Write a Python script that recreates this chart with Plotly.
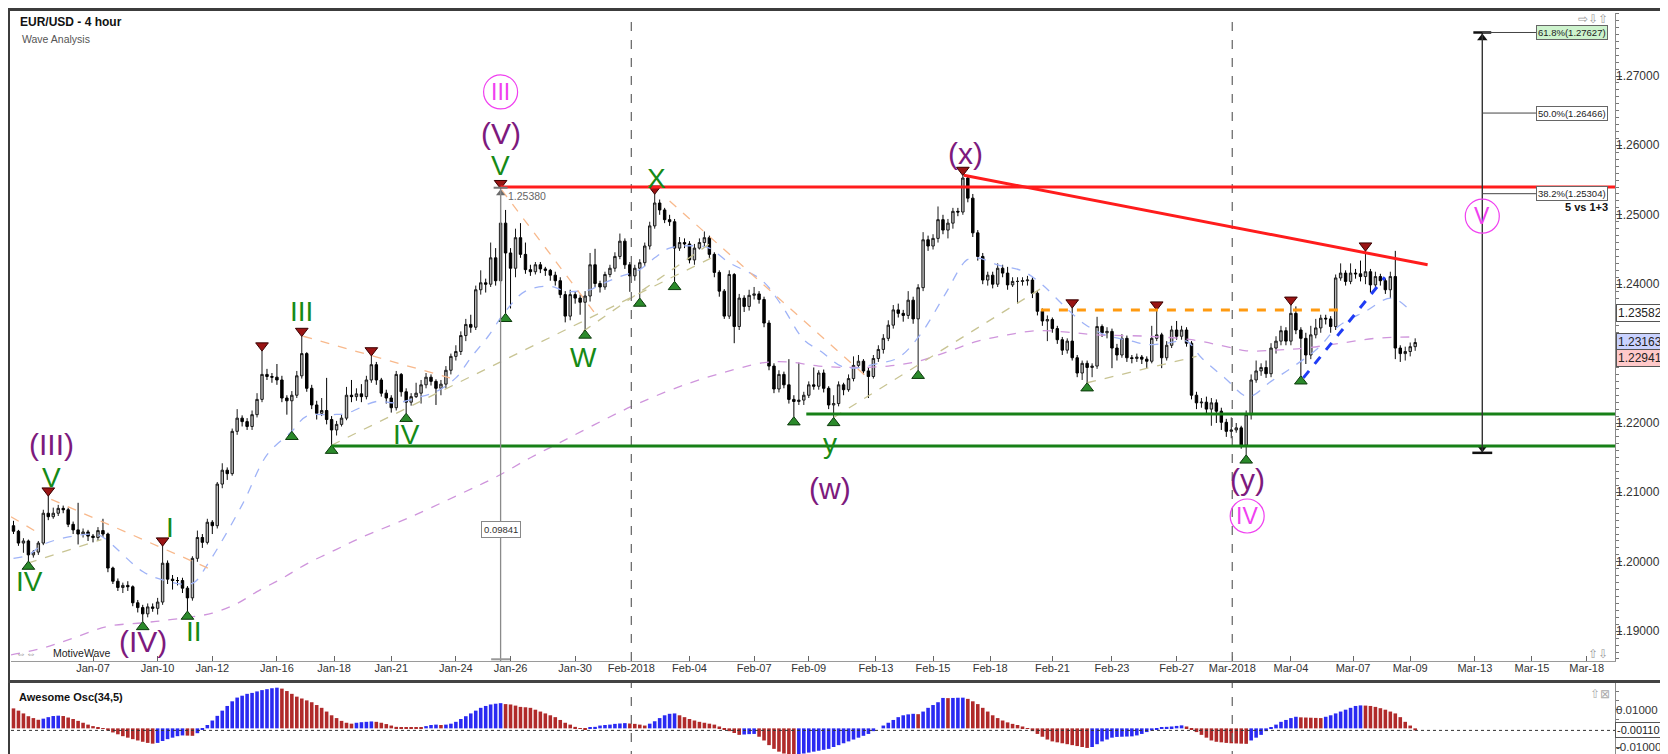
import plotly.graph_objects as go

# ---------------------------------------------------------------- data
first_open = 1.2052
closes = [
    1.2044, 1.2027, 1.2030, 1.2010, 1.2014, 1.2027, 1.2070, 1.2065, 1.2070, 1.2077,
    1.2075, 1.2054, 1.2046, 1.2040, 1.2043, 1.2037, 1.2035, 1.2045, 1.2040, 1.1991,
    1.1972, 1.1963, 1.1966, 1.1964, 1.1941, 1.1934, 1.1925, 1.1935, 1.1933, 1.1942,
    1.1998, 1.1975, 1.1973, 1.1973, 1.1962, 1.1948, 1.2005, 1.2035, 1.2028, 1.2057,
    1.2052, 1.2112, 1.2132, 1.2127, 1.2188, 1.2207, 1.2202, 1.2195, 1.2212, 1.2234,
    1.2270, 1.2267, 1.2266, 1.2262, 1.2236, 1.2232, 1.2240, 1.2268, 1.2300, 1.2250,
    1.2226, 1.2214, 1.2218, 1.2205, 1.2190, 1.2198, 1.2207, 1.2240, 1.2238, 1.2242,
    1.2238, 1.2262, 1.2284, 1.2262, 1.2243, 1.2236, 1.2222, 1.2270, 1.2245, 1.2230,
    1.2238, 1.2243, 1.2255, 1.2266, 1.2260, 1.2250, 1.2256, 1.2276, 1.2296, 1.2303,
    1.2326, 1.2342, 1.2338, 1.2392, 1.2402, 1.2400, 1.2438, 1.2405, 1.2488, 1.2445,
    1.2423, 1.2467, 1.2443, 1.2421, 1.2418, 1.2428, 1.2422, 1.2420, 1.2413, 1.2405,
    1.2385, 1.2354, 1.2385, 1.2380, 1.2374, 1.2383, 1.2428, 1.2401, 1.2396, 1.2414,
    1.2423, 1.2440, 1.2462, 1.2428, 1.2412, 1.2423, 1.2431, 1.2455, 1.2484, 1.2517,
    1.2507, 1.2493, 1.2490, 1.2452, 1.2460, 1.2458, 1.2435, 1.2452, 1.2460, 1.2467,
    1.2443, 1.2417, 1.2390, 1.2354, 1.2414, 1.2339, 1.2380, 1.2368, 1.2384, 1.2386,
    1.2378, 1.2344, 1.2282, 1.2249, 1.2270, 1.2255, 1.2234, 1.2231, 1.2233, 1.2240,
    1.2255, 1.2253, 1.2272, 1.2250, 1.2226, 1.2228, 1.2255, 1.2248, 1.2264, 1.2283,
    1.2289, 1.2275, 1.2267, 1.2293, 1.2306, 1.2322, 1.2341, 1.2363, 1.2358, 1.2355,
    1.2377, 1.2350, 1.2395, 1.2464, 1.2455, 1.2466, 1.2493, 1.2478, 1.2488, 1.2505,
    1.2504, 1.2553, 1.2524, 1.2474, 1.2440, 1.2406, 1.2413, 1.2400, 1.2423, 1.2416,
    1.2399, 1.2404, 1.2404, 1.2405, 1.2406, 1.2387, 1.2361, 1.2347, 1.2349, 1.2336,
    1.2320, 1.2305, 1.2318, 1.2294, 1.2272, 1.2286, 1.2280, 1.2282, 1.2339, 1.2330,
    1.2332, 1.2308, 1.2298, 1.2322, 1.2294, 1.2293, 1.2295, 1.2292, 1.2289, 1.2322,
    1.2327, 1.2294, 1.2312, 1.2334, 1.2325, 1.2334, 1.2315, 1.2240, 1.2229, 1.2230,
    1.2220, 1.2229, 1.2217, 1.2201, 1.2188, 1.2190, 1.2193, 1.2168, 1.2212, 1.2262,
    1.2275, 1.2280, 1.2271, 1.2308, 1.2318, 1.2333, 1.2318, 1.2358, 1.2334, 1.2322,
    1.2298, 1.2327, 1.2337, 1.2351, 1.2350, 1.2339, 1.2409, 1.2416, 1.2404, 1.2416,
    1.2415, 1.2411, 1.2418, 1.2399, 1.2411, 1.2405, 1.2392, 1.2411, 1.2308, 1.2300,
    1.2303, 1.2310, 1.2316,
]
highs = [
    1.2059, 1.2046, 1.2034, 1.2032, 1.2017, 1.2030, 1.2075, 1.2095, 1.2078, 1.2082,
    1.2081, 1.2078, 1.2058, 1.2085, 1.2048, 1.2046, 1.2040, 1.2050, 1.2062, 1.2042,
    1.1993, 1.1976, 1.1970, 1.1972, 1.1966, 1.1945, 1.1938, 1.1940, 1.1940, 1.1948,
    1.2023, 1.2002, 1.1981, 1.1978, 1.1977, 1.1965, 1.2008, 1.2045, 1.2040, 1.2062,
    1.2060, 1.2115, 1.2142, 1.2136, 1.2192, 1.2220, 1.2211, 1.2207, 1.2218, 1.2243,
    1.2304, 1.2278, 1.2272, 1.2285, 1.2268, 1.2240, 1.2246, 1.2275, 1.2325, 1.2302,
    1.2255, 1.2232, 1.2236, 1.2265, 1.2210, 1.2203, 1.2212, 1.2252, 1.2262, 1.2250,
    1.2256, 1.2268, 1.2297, 1.2288, 1.2265, 1.2248, 1.2240, 1.2275, 1.2272, 1.2250,
    1.2243, 1.2258, 1.2262, 1.2272, 1.2270, 1.2263, 1.2262, 1.2282, 1.2300, 1.2312,
    1.2332, 1.2350, 1.2356, 1.2398, 1.2420, 1.2408, 1.2460, 1.2452, 1.2538, 1.2507,
    1.2452, 1.2480, 1.2488, 1.2460, 1.2428, 1.2432, 1.2432, 1.2425, 1.2422, 1.2418,
    1.2410, 1.2390, 1.2392, 1.2390, 1.2385, 1.2390, 1.2445, 1.2451, 1.2405, 1.2418,
    1.2428, 1.2446, 1.2473, 1.2466, 1.2432, 1.2428, 1.2436, 1.2460, 1.2490, 1.2530,
    1.2522, 1.2510, 1.2500, 1.2494, 1.2468, 1.2466, 1.2462, 1.2458, 1.2466, 1.2476,
    1.2470, 1.2446, 1.2420, 1.2393, 1.2420, 1.2416, 1.2386, 1.2384, 1.2392, 1.2396,
    1.2390, 1.2382, 1.2348, 1.2286, 1.2276, 1.2274, 1.2292, 1.2240, 1.2287, 1.2245,
    1.2260, 1.2280, 1.2276, 1.2277, 1.2253, 1.2240, 1.2260, 1.2258, 1.2270, 1.2296,
    1.2298, 1.2292, 1.2280, 1.2298, 1.2312, 1.2328, 1.2348, 1.2370, 1.2372, 1.2363,
    1.2390, 1.2382, 1.2400, 1.2475, 1.2470, 1.2472, 1.2512, 1.2500, 1.2494, 1.2510,
    1.2510, 1.2557, 1.2555, 1.2530, 1.2478, 1.2445, 1.2418, 1.2418, 1.2430, 1.2428,
    1.2425, 1.2410, 1.2410, 1.2410, 1.2412, 1.2410, 1.2390, 1.2365, 1.2355, 1.2352,
    1.2340, 1.2324, 1.2322, 1.2366, 1.2298, 1.2290, 1.2290, 1.2286, 1.2353, 1.2342,
    1.2338, 1.2336, 1.2314, 1.2328, 1.2326, 1.2298, 1.2300, 1.2298, 1.2296, 1.2340,
    1.2363, 1.2330, 1.2318, 1.2340, 1.2347, 1.2340, 1.2338, 1.2318, 1.2245, 1.2236,
    1.2238, 1.2236, 1.2234, 1.2222, 1.2206, 1.2208, 1.2200, 1.2196, 1.2218, 1.2270,
    1.2290, 1.2286, 1.2290, 1.2315, 1.2325, 1.2340, 1.2338, 1.2370, 1.2368, 1.2338,
    1.2330, 1.2340, 1.2350, 1.2356, 1.2356, 1.2354, 1.2414, 1.2430, 1.2420, 1.2430,
    1.2422, 1.2434, 1.2448, 1.2422, 1.2418, 1.2415, 1.2408, 1.2418, 1.2448, 1.2312,
    1.2310, 1.2316, 1.2322,
]
lows = [
    1.2040, 1.2023, 1.2013, 1.2001, 1.2006, 1.2010, 1.2024, 1.2060, 1.2062, 1.2066,
    1.2070, 1.2050, 1.2040, 1.2025, 1.2035, 1.2030, 1.2028, 1.2030, 1.2036, 1.1985,
    1.1968, 1.1958, 1.1955, 1.1958, 1.1936, 1.1927, 1.1914, 1.1920, 1.1928, 1.1924,
    1.1938, 1.1968, 1.1960, 1.1966, 1.1955, 1.1929, 1.1944, 1.2000, 1.2020, 1.2025,
    1.2040, 1.2048, 1.2106, 1.2118, 1.2124, 1.2183, 1.2195, 1.2190, 1.2190, 1.2208,
    1.2230, 1.2262, 1.2258, 1.2255, 1.2230, 1.2212, 1.2188, 1.2236, 1.2264, 1.2245,
    1.2220, 1.2205, 1.2210, 1.2198, 1.2168, 1.2182, 1.2195, 1.2204, 1.2230, 1.2232,
    1.2230, 1.2234, 1.2258, 1.2255, 1.2238, 1.2228, 1.2215, 1.2218, 1.2238, 1.2214,
    1.2225, 1.2236, 1.2228, 1.2250, 1.2254, 1.2226, 1.2240, 1.2250, 1.2270, 1.2290,
    1.2298, 1.2318, 1.2330, 1.2334, 1.2385, 1.2388, 1.2396, 1.2398, 1.2400, 1.2358,
    1.2365, 1.2410, 1.2438, 1.2415, 1.2412, 1.2414, 1.2416, 1.2412, 1.2405, 1.2398,
    1.2380, 1.2345, 1.2348, 1.2372, 1.2356, 1.2334, 1.2375, 1.2396, 1.2388, 1.2392,
    1.2410, 1.2418, 1.2436, 1.2422, 1.2389, 1.2405, 1.2380, 1.2426, 1.2450, 1.2480,
    1.2500, 1.2488, 1.2484, 1.2404, 1.2448, 1.2452, 1.2430, 1.2428, 1.2450, 1.2455,
    1.2438, 1.2410, 1.2382, 1.2350, 1.2350, 1.2315, 1.2334, 1.2360, 1.2362, 1.2378,
    1.2372, 1.2338, 1.2276, 1.2243, 1.2244, 1.2250, 1.2228, 1.2209, 1.2226, 1.2226,
    1.2236, 1.2248, 1.2248, 1.2244, 1.2220, 1.2208, 1.2224, 1.2240, 1.2245, 1.2260,
    1.2280, 1.2270, 1.2236, 1.2264, 1.2288, 1.2300, 1.2318, 1.2336, 1.2352, 1.2346,
    1.2350, 1.2343, 1.2276, 1.2390, 1.2448, 1.2450, 1.2460, 1.2472, 1.2466, 1.2480,
    1.2498, 1.2500, 1.2518, 1.2468, 1.2434, 1.2400, 1.2398, 1.2394, 1.2396, 1.2410,
    1.2392, 1.2396, 1.2372, 1.2398, 1.2398, 1.2380, 1.2355, 1.2340, 1.2318, 1.2330,
    1.2314, 1.2298, 1.2300, 1.2290, 1.2266, 1.2262, 1.2258, 1.2266, 1.2278, 1.2324,
    1.2322, 1.2279, 1.2290, 1.2294, 1.2288, 1.2286, 1.2288, 1.2285, 1.2279, 1.2286,
    1.2318, 1.2279, 1.2290, 1.2308, 1.2320, 1.2320, 1.2310, 1.2234, 1.2220, 1.2222,
    1.2212, 1.2196, 1.2200, 1.2190, 1.2180, 1.2178, 1.2186, 1.2163, 1.2154, 1.2205,
    1.2258, 1.2268, 1.2265, 1.2266, 1.2300, 1.2312, 1.2312, 1.2312, 1.2328, 1.2268,
    1.2285, 1.2292, 1.2322, 1.2330, 1.2342, 1.2330, 1.2334, 1.2405, 1.2398, 1.2400,
    1.2408, 1.2404, 1.2400, 1.2388, 1.2394, 1.2398, 1.2386, 1.2380, 1.2292, 1.2288,
    1.2290, 1.2296, 1.2304,
]
# Awesome Oscillator (34,5), in thousandths
ao_milli = [
    10.7, 9.5, 8.0, 6.5, 5.5, 4.6, 5.2, 6.0, 6.6, 6.8,
    6.6, 5.8, 5.0, 4.0, 3.0, 2.0, 1.2, 0.5, -0.2, -1.2,
    -2.2, -3.2, -4.2, -5.0, -5.8, -6.5, -7.2, -7.8, -8.2, -7.8,
    -6.8, -5.8, -5.0, -4.2, -3.8, -3.9, -4.0, -2.6, -0.5, 1.8,
    4.2, 6.7, 9.5, 12.0, 14.5, 16.5, 17.5, 18.5, 19.0, 19.8,
    20.5, 21.0, 21.5, 21.8, 21.3, 20.0, 18.5, 17.0, 16.0, 15.0,
    14.0, 12.5, 11.0, 9.0, 7.0, 5.5, 4.0, 3.0, 2.5, 3.0,
    3.3, 3.5, 3.7, 3.5, 3.0, 2.3, 1.5, 0.8, 0.5, 0.4,
    0.3, 0.3, 0.2, 1.2, 1.8, 2.0, 1.8, 2.0, 2.5, 3.5,
    5.0, 6.5, 8.0, 9.5, 11.0, 12.0, 12.8, 13.2, 13.5, 13.0,
    12.8, 12.2, 11.5, 11.3, 11.0, 10.0, 9.0, 8.0, 7.0, 6.0,
    4.5, 3.0, 2.0, 0.8, -0.3, -0.8, 0.2, 0.8, 1.5, 1.8,
    2.0, 2.4, 2.6, 2.8, 2.6, 2.4, 2.0, 1.5, 2.5, 3.8,
    5.5, 7.0, 7.8, 8.0, 7.0, 6.0, 5.0, 4.2, 3.5, 3.0,
    2.5, 2.0, 1.0, -0.5, -1.5, -2.5, -3.5, -3.3, -3.1, -3.0,
    -4.5, -6.5, -9.0, -11.0, -12.5, -13.5, -14.2, -14.3, -14.0, -13.5,
    -13.0, -12.5, -12.0, -11.5, -11.0, -10.0, -9.0, -8.0, -7.0, -6.0,
    -5.0, -4.0, -3.0, -1.5, 0.0, 1.5, 3.0, 4.5, 6.0, 7.0,
    7.5, 7.8, 7.6, 9.0, 11.0, 12.5, 14.0, 16.3, 16.2, 16.3,
    16.4, 16.45, 15.8, 14.5, 13.0, 11.0, 9.0, 7.0, 5.5, 4.2,
    3.2, 2.4, 1.8, 1.0, -0.3, -1.5, -3.0, -4.5, -6.0, -7.0,
    -7.5, -8.0, -8.5, -9.0, -9.5, -10.0, -10.5, -10.0, -8.5, -7.0,
    -6.0, -5.0, -4.6, -4.5, -4.4, -4.3, -3.8, -3.0, -2.0, -1.2,
    -0.5, 0.3, 0.8, 1.0, 1.3, 1.6, 1.0, -0.5, -2.0, -3.5,
    -5.0, -6.5, -7.2, -7.5, -7.8, -8.0, -8.1, -8.2, -8.3, -6.5,
    -5.0, -3.5, -1.5, 0.5, 2.0, 3.5, 4.5, 5.5, 6.2, 5.9,
    5.8, 5.7, 5.6, 5.5, 6.2, 7.0, 8.0, 9.0, 10.0, 11.0,
    12.0, 12.3, 12.2, 12.0, 11.5, 10.8, 10.0, 9.0, 8.0, 6.0,
    3.5, 1.5, -1.1,
]

tick_bars = [16, 29, 40, 53, 64.5, 76, 89, 100, 113, 124.3, 136, 149, 160,
             173.5, 185, 196.5, 209, 221, 234, 245.2, 257, 269.5, 281, 294, 305.5, 316.5]
tick_labels = ["Jan-07", "Jan-10", "Jan-12", "Jan-16", "Jan-18", "Jan-21", "Jan-24", "Jan-26",
               "Jan-30", "Feb-2018", "Feb-04", "Feb-07", "Feb-09", "Feb-13", "Feb-15", "Feb-18",
               "Feb-21", "Feb-23", "Feb-27", "Mar-2018", "Mar-04", "Mar-07", "Mar-09", "Mar-13",
               "Mar-15", "Mar-18"]
month_bars = [124.3, 245.2]
price_ticks = [1.19, 1.20, 1.21, 1.22, 1.24, 1.25, 1.26, 1.27]
price_tick_text = ["1.19000", "1.20000", "1.21000", "1.22000", "1.24000", "1.25000", "1.26000", "1.27000"]
ao_ticks = [0.01, -0.01]
ao_tick_text = ["0.01000", "-0.01000"]

blue_ma_bar = [0, 3, 6, 12, 17, 19, 26, 30, 36, 39, 46, 51, 56, 59, 64, 67, 73, 77, 82, 85, 89, 92,
               95.5, 99, 103, 108, 111, 114, 116, 118, 122, 126, 129, 132, 138, 140, 144, 150.5,
               154.5, 159, 162.5, 166.5, 169, 174, 178, 182.4, 187.4, 191.8, 194, 198, 203, 207,
               211.6, 215.6, 219.6, 225, 228, 232, 236, 239, 243.7, 248.4, 253, 257, 262.5,
               266.5, 272, 277.3, 281.5]
blue_ma_val = [1.2005, 1.2010, 1.2025, 1.2037, 1.2039, 1.2030, 1.1986, 1.1974, 1.1969, 1.1996,
               1.2082, 1.2154, 1.2188, 1.2210, 1.2212, 1.2214, 1.2231, 1.2229, 1.2238, 1.2245,
               1.2265, 1.2294, 1.2325, 1.2361, 1.2390, 1.2397, 1.2390, 1.2390, 1.2392, 1.2399,
               1.2411, 1.2421, 1.2438, 1.2452, 1.2455, 1.2452, 1.2431, 1.2406, 1.2370, 1.2320,
               1.2303, 1.2282, 1.2279, 1.2286, 1.2294, 1.2327, 1.2385, 1.2435, 1.2438, 1.2428,
               1.2419, 1.2399, 1.2367, 1.2342, 1.2327, 1.2318, 1.2313, 1.2315, 1.2318, 1.2294,
               1.2265, 1.2238, 1.2260, 1.2279, 1.2308, 1.2339, 1.2361, 1.2380, 1.2358]
purple_ma_bar = [-0.5, 6, 12, 19, 26, 32, 40, 45, 49, 54, 59, 65, 70, 80, 90, 97, 104, 110, 117,
                 125, 135, 145, 151, 156, 162, 169, 176, 182, 188, 194, 200, 206, 212, 218, 228,
                 237, 244, 248, 254, 260, 267, 274, 281.5]
purple_ma_val = [1.1866, 1.1876, 1.1890, 1.1907, 1.1912, 1.1917, 1.1926, 1.1940, 1.1957, 1.1976,
                 1.1997, 1.2018, 1.2035, 1.2065, 1.2098, 1.2122, 1.2150, 1.2172, 1.2198, 1.2226,
                 1.2255, 1.2277, 1.2287, 1.2288, 1.2282, 1.2280, 1.2282, 1.2289, 1.2303, 1.2318,
                 1.2327, 1.2333, 1.2331, 1.2327, 1.2325, 1.2320, 1.2310, 1.2304, 1.2305, 1.2308,
                 1.2315, 1.2322, 1.2324]

pivot_high_bars = [7, 30, 50, 58, 72, 98, 129, 191, 213, 230, 257, 272]
pivot_low_bars = [3, 26, 35, 56, 64, 79, 99, 115, 126, 133, 157, 165, 182, 216, 248, 259]

# (x0, y0, x1, y1) of the thin dashed wave guide lines
peach_lines = [(-0.5, 1.2065, 5.6, 1.2039), (7.6, 1.2090, 39.1, 1.1991),
               (58.3, 1.2325, 87.8, 1.2265), (98.2, 1.2536, 117.0, 1.2358),
               (132.0, 1.2520, 171.9, 1.2265)]
olive_lines = [(2.9, 1.1998, 17.7, 1.2032), (64.0, 1.2168, 141.0, 1.2440),
               (114.6, 1.2332, 140.0, 1.2458), (165.0, 1.2208, 207.0, 1.2395),
               (216.0, 1.2258, 238.0, 1.2296)]

red_level, red_level_from = 1.2540, 98
green_levels = [(1.2167, 64), (1.2213, 159.5)]
red_trend = (191.2, 1.2557, 284.5, 1.2428)
orange_level = (206.7, 267.4, 1.2363)
blue_trend = (259.5, 1.2265, 275.9, 1.2410)

v_bar, v_price, v_span_label = 98, 1.25380, "0.09841"
fib_bar, fib_low, fib_label_bar = 295.5, 1.2157, 306.3
fib_levels = [1.27627, 1.26466, 1.25304]
fib_texts = ["61.8%(1.27627)", "50.0%(1.26466)", "38.2%(1.25304)"]
fib_note, fib_note_price = "5 vs 1+3", 1.25108

green_labels = [("IV", 3.3, 1.1972), ("V", 7.6, 1.2121), ("I", 31.5, 1.2049), ("II", 36.3, 1.1900),
                ("III", 57.9, 1.2361), ("IV", 79.0, 1.2183), ("V", 97.9, 1.2571),
                ("W", 114.6, 1.2294), ("X", 129.3, 1.2553), ("y", 164.2, 1.2170)]
purple_labels = [("(III)", 7.6, 1.2169), ("(IV)", 26.1, 1.1885), ("(V)", 98.0, 1.2617),
                 ("(w)", 164.3, 1.2106), ("(x)", 191.5, 1.2589), ("(y)", 248.2, 1.2119)]
pink_labels = [("III", 98.0, 1.2677), ("IV", 248.2, 1.2066), ("V", 295.5, 1.2498)]

last_labels = [("1.23582", 1.23582, "white"), ("1.23163", 1.23163, "#c9d2ff"),
               ("1.22941", 1.22941, "#ffc9c9")]
ao_last, ao_last_text = -0.00110, "-0.00110"

# ---------------------------------------------------------------- layout constants
W, H = 1668, 754
FONT = "Liberation Sans, Arial, sans-serif"
XD = [3 / W, 1607 / W]
YD_MAIN = [1 - 653 / H, 1 - 5 / H]
YD_AO = [1 - 752 / H, 1 - 675 / H]
XR = [-0.5, 322.2]
YR = [1.185706, 1.279078]
YR_AO = [-0.01697, 0.02431]
LABEL_X = 1607 / W

n = len(closes)
assert len(highs) == n and len(lows) == n and len(ao_milli) == n, (len(highs), len(lows), len(ao_milli))
bars = list(range(n))
opens = [first_open] + closes[:-1]
hi = [max(h, o, c) for h, o, c in zip(highs, opens, closes)]
lo = [min(l, o, c) for l, o, c in zip(lows, opens, closes)]
ao = [v / 1000 for v in ao_milli]
ao_colors = ["#b02a2a" if i == 0 or ao[i] <= ao[i - 1] else "#2a2af2" for i in range(n)]

fig = go.Figure()

# moving averages
fig.add_trace(go.Scatter(x=purple_ma_bar, y=purple_ma_val, mode="lines", line_shape="spline",
                         line=dict(color="#cf95dc", width=1.3, dash="dash"), hoverinfo="skip"))
fig.add_trace(go.Scatter(x=blue_ma_bar, y=blue_ma_val, mode="lines", line_shape="spline",
                         line=dict(color="#9fb3f7", width=1.3, dash="dash"), hoverinfo="skip"))

# guide lines
for x0, y0, x1, y1 in peach_lines:
    fig.add_trace(go.Scatter(x=[x0, x1], y=[y0, y1], mode="lines",
                             line=dict(color="#f8b98c", width=1.3, dash="dash"), hoverinfo="skip"))
for x0, y0, x1, y1 in olive_lines:
    fig.add_trace(go.Scatter(x=[x0, x1], y=[y0, y1], mode="lines",
                             line=dict(color="#c8c493", width=1.3, dash="dash"), hoverinfo="skip"))

# candles
fig.add_trace(go.Candlestick(
    x=bars, open=opens, high=hi, low=lo, close=closes,
    increasing=dict(line=dict(color="#1a1a1a", width=1), fillcolor="#b9b9b9"),
    decreasing=dict(line=dict(color="#000000", width=1), fillcolor="#000000"),
    whiskerwidth=0, hoverinfo="skip", showlegend=False))

# pivot triangles
fig.add_trace(go.Scatter(x=pivot_high_bars, y=[hi[i] + 0.00075 for i in pivot_high_bars],
                         mode="markers", marker=dict(symbol="triangle-down", size=11, color="#9a1414",
                                                     line=dict(color="#3a0000", width=1)),
                         hoverinfo="skip"))
fig.add_trace(go.Scatter(x=pivot_low_bars, y=[lo[i] - 0.00078 for i in pivot_low_bars],
                         mode="markers", marker=dict(symbol="triangle-up", size=11, color="#2b8a2b",
                                                     line=dict(color="#0c3a0c", width=1)),
                         hoverinfo="skip"))

# V measurement arrow head and fib arrow heads
fig.add_trace(go.Scatter(x=[v_bar], y=[v_price - 0.0007], mode="markers",
                         marker=dict(symbol="triangle-up", size=8, color="#6a6a6a"), hoverinfo="skip"))
fig.add_trace(go.Scatter(x=[fib_bar, fib_bar], y=[fib_levels[0] - 0.0008, fib_low + 0.0007], mode="markers",
                         marker=dict(symbol=["triangle-up", "triangle-down"], size=9, color="#111"),
                         hoverinfo="skip"))

# awesome oscillator
fig.add_trace(go.Bar(x=bars, y=ao, marker=dict(color=ao_colors, line=dict(width=0)), width=0.72,
                     xaxis="x2", yaxis="y2", hoverinfo="skip"))

shapes = []


def hline(x0, x1, y, color, width, dash="solid", xref="x", yref="y"):
    shapes.append(dict(type="line", xref=xref, yref=yref, x0=x0, x1=x1, y0=y, y1=y,
                       line=dict(color=color, width=width, dash=dash)))


def seg(x0, y0, x1, y1, color, width, dash="solid"):
    shapes.append(dict(type="line", xref="x", yref="y", x0=x0, x1=x1, y0=y0, y1=y1,
                       line=dict(color=color, width=width, dash=dash)))


for mb in month_bars:
    shapes.append(dict(type="line", xref="x", yref="y domain", x0=mb, x1=mb, y0=0, y1=1,
                       line=dict(color="#6e6e6e", width=1.3, dash="dash")))
    shapes.append(dict(type="line", xref="x2", yref="y2 domain", x0=mb, x1=mb, y0=0, y1=1,
                       line=dict(color="#6e6e6e", width=1.3, dash="dash")))

# level / trend lines
hline(red_level_from, XR[1], red_level, "#ff1c1c", 3)
for lvl, start in green_levels:
    hline(start, XR[1], lvl, "#178017", 3)
seg(red_trend[0], red_trend[1], red_trend[2], red_trend[3], "#ff1c1c", 3)
hline(orange_level[0], orange_level[1], orange_level[2], "#ff9a10", 3, "dash")
seg(blue_trend[0], blue_trend[1], blue_trend[2], blue_trend[3], "#1f3cf5", 3, "dash")

# V measurement line
seg(v_bar, v_price, v_bar, YR[0], "#8a8a8a", 1.3)
hline(v_bar - 1.4, v_bar + 1.4, v_price + 0.0001, "#777", 2)
hline(v_bar - 1.9, v_bar + 1.9, YR[0] + 0.00025, "#999", 2)

# fib tool
seg(fib_bar, fib_low, fib_bar, fib_levels[0], "#333", 1.4)
hline(fib_bar - 1.8, fib_bar + 1.8, fib_levels[0], "#111", 2.5)
hline(fib_bar - 2.0, fib_bar + 2.0, fib_low, "#111", 2.5)
for lvl in fib_levels:
    hline(fib_bar, fib_label_bar, lvl, "#444", 1)

# pink circles
for txt, bx, py in pink_labels:
    shapes.append(dict(type="circle", xref="x", yref="y", xsizemode="pixel", ysizemode="pixel",
                       xanchor=bx, yanchor=py, x0=-17, x1=17, y0=-17, y1=17,
                       line=dict(color="#f040f0", width=1.2)))

# AO current value dotted line
hline(0, 1, ao_last, "#333", 1, "dot", xref="x2 domain", yref="y2")


# frame
def prect(x0, y0, x1, y1, color):
    shapes.append(dict(type="rect", xref="paper", yref="paper", x0=x0 / W, x1=x1 / W,
                       y0=1 - y1 / H, y1=1 - y0 / H, fillcolor=color, line=dict(width=0), layer="above"))


prect(0, 0, W, 3, "#3c3c3c")
prect(0, 0, 2, H, "#3c3c3c")
prect(0, H - 2, W, H, "#3c3c3c")
prect(W - 6, 0, W - 5, H, "#222")
prect(W - 5, 0, W, H, "#3a7bd5")
prect(0, 672, W - 6, 675, "#444")

annotations = []


def ann(text, x, y, size, color, bold=False, xref="x", yref="y", xanchor="center", yanchor="middle", **kw):
    t = f"<b>{text}</b>" if bold else text
    annotations.append(dict(text=t, x=x, y=y, xref=xref, yref=yref, xanchor=xanchor, yanchor=yanchor,
                            showarrow=False, font=dict(size=size, color=color, family=FONT), **kw))


# price-axis and oscillator-axis tick labels placed right next to the tick marks
for val, txt in zip(price_ticks, price_tick_text):
    ann(txt, LABEL_X, val, 12, "#333", xref="paper", yref="y", xanchor="left", borderpad=0)
for val, txt in zip(ao_ticks, ao_tick_text):
    ann(txt, LABEL_X, val, 11.5, "#333", xref="paper", yref="y2", xanchor="left", borderpad=0)

for txt, bx, py in green_labels:
    ann(txt, bx, py, 28, "#168a16")
for txt, bx, py in purple_labels:
    ann(txt, bx, py, 30, "#7d1a7d")
for txt, bx, py in pink_labels:
    ann(txt, bx, py, 23, "#f040f0")

ann("EUR/USD - 4 hour", 10 / W, 1 - 14 / H, 12, "#111", bold=True, xref="paper", yref="paper", xanchor="left")
ann("Wave Analysis", 12 / W, 1 - 31 / H, 10.5, "#555", xref="paper", yref="paper", xanchor="left")
ann("Awesome Osc(34,5)", 9 / W, 1 - 689 / H, 11, "#111", bold=True, xref="paper", yref="paper", xanchor="left")
ann("⇔⇔", 6 / W, 1 - 645 / H, 10, "#888", xref="paper", yref="paper", xanchor="left")
ann("MotiveWave", 43 / W, 1 - 645 / H, 10.5, "#222", xref="paper", yref="paper", xanchor="left")
ann("⇨⇩⇧", 1602 / W, 1 - 11 / H, 12, "#999", xref="paper", yref="paper", xanchor="right")
ann("⇧⇩", 1602 / W, 1 - 646 / H, 12, "#999", xref="paper", yref="paper", xanchor="right")
ann("⇧⊠", 1604 / W, 1 - 686 / H, 12, "#aaa", xref="paper", yref="paper", xanchor="right")

ann(f"{v_price:.5f}", v_bar, v_price - 0.0011, 10.5, "#666", xanchor="left", xshift=5)
ann(v_span_label, v_bar, 1.2046, 9.5, "#333", bgcolor="white", bordercolor="#888", borderwidth=1, borderpad=2)

for lvl, txt, bg in zip(fib_levels, fib_texts, ["#cdf3cd", "white", "white"]):
    ann(txt, fib_label_bar, lvl, 9.5, "#222", xanchor="left", bgcolor=bg, bordercolor="#666",
        borderwidth=1, borderpad=1)
ann(fib_note, 1602 / W, fib_note_price, 11, "#111", bold=True, xref="paper", xanchor="right")

for txt, val, bg in last_labels:
    ann(txt, 1608 / W, val, 12, "#222", xref="paper", xanchor="left", bgcolor=bg,
        bordercolor="#555", borderwidth=1, borderpad=1)
ann(ao_last_text, 1607 / W, ao_last, 11, "#222", xref="paper", yref="y2", xanchor="left",
    bgcolor="white", bordercolor="#555", borderwidth=1, borderpad=1)

fig.update_layout(
    width=W, height=H, margin=dict(l=0, r=0, t=0, b=0),
    paper_bgcolor="white", plot_bgcolor="white", showlegend=False,
    xaxis=dict(domain=XD, range=XR, anchor="y", tickmode="array", tickvals=tick_bars, ticktext=tick_labels,
               ticks="inside", ticklen=5, tickcolor="#666", showline=True, linecolor="#9a9a9a",
               showgrid=False, zeroline=False, tickfont=dict(size=11, color="#333", family=FONT),
               ticklabelstandoff=-3, rangeslider=dict(visible=False), fixedrange=True),
    yaxis=dict(domain=YD_MAIN, range=YR, anchor="x", side="right", tickmode="array", tickvals=price_ticks,
               showticklabels=False, ticks="outside", ticklen=6, tickcolor="#555", showline=True,
               linecolor="#8a8a8a", showgrid=False, zeroline=False,
               minor=dict(dtick=0.001, tick0=1.19, ticklen=3, tickcolor="#777", ticks="outside"),
               fixedrange=True),
    xaxis2=dict(domain=XD, range=XR, anchor="y2", showticklabels=False, ticks="", showline=False,
                showgrid=False, zeroline=False, fixedrange=True),
    yaxis2=dict(domain=YD_AO, range=YR_AO, anchor="x2", side="right", tickmode="array", tickvals=ao_ticks,
                showticklabels=False, ticks="outside", ticklen=5, tickcolor="#555", showline=True,
                linecolor="#8a8a8a", showgrid=False, zeroline=False,
                minor=dict(dtick=0.005, tick0=0, ticklen=3, tickcolor="#777", ticks="outside"),
                fixedrange=True),
    shapes=shapes, annotations=annotations,
)

fig.write_html("out.html")
